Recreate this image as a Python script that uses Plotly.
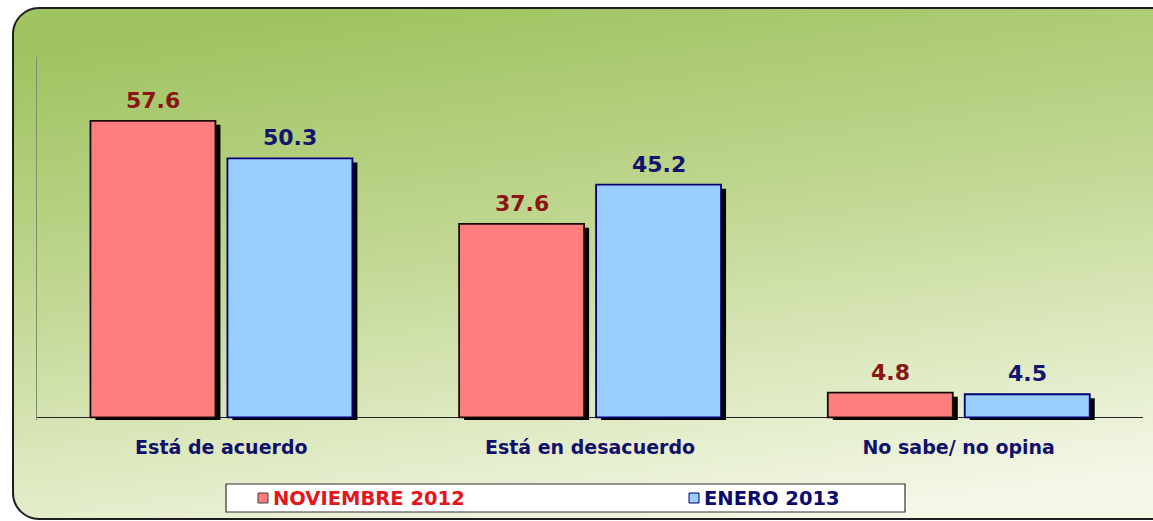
import base64
import plotly.graph_objects as go

# ---- data ----
categories = ["Está de acuerdo", "Está en desacuerdo", "No sabe/ no opina"]
series_names = ["NOVIEMBRE 2012", "ENERO 2013"]
nov_2012 = [57.6, 37.6, 4.8]
ene_2013 = [50.3, 45.2, 4.5]

# ---- styling ----
W, H = 1153, 521
ML, MR, MT, MB = 37, 10, 57, 101
PW, PH = W - ML - MR, H - MT - MB
Y_RANGE = [-0.5, 70]

bar_w = 0.339
offsets = [-0.355, 0.0165]
fill_colors = ["#ff7f7f", "#99ccff"]
line_colors = ["#1a0a0a", "#000070"]
label_colors = ["#8b1515", "#14146e"]
legend_text_colors = ["#e8141c", "#0a0a6e"]
shadow_dx = 5 / (PW / 3)
shadow_dy = 4 / (PH / (Y_RANGE[1] - Y_RANGE[0]))

FONT = "DejaVu Sans"


def px2x(px):
    return (px - ML) / PW


def py2y(py):
    return (H - MB - py) / PH


fig = go.Figure()
series = [nov_2012, ene_2013]

# shadows
for s, vals in enumerate(series):
    fig.add_trace(go.Bar(
        x=categories, y=vals, base=-shadow_dy, width=bar_w,
        offset=offsets[s] + shadow_dx,
        marker=dict(color="black", line=dict(width=0)),
        hoverinfo="skip", showlegend=False,
    ))

# bars
for s, vals in enumerate(series):
    fig.add_trace(go.Bar(
        x=categories, y=vals, width=bar_w, offset=offsets[s],
        name=series_names[s],
        marker=dict(color=fill_colors[s], line=dict(width=1.8, color=line_colors[s])),
        showlegend=False,
    ))

annotations = []
for s, vals in enumerate(series):
    for i, v in enumerate(vals):
        annotations.append(dict(
            x=i + offsets[s] + bar_w / 2, y=v, xref="x", yref="y",
            text=f"{v:.1f}", showarrow=False, yanchor="bottom", yshift=6,
            font=dict(family=FONT, size=22, color=label_colors[s], weight="bold"),
        ))

# legend (custom box)
shapes = [dict(
    type="rect", xref="paper", yref="paper",
    x0=px2x(226), x1=px2x(905), y0=py2y(512), y1=py2y(484),
    fillcolor="white", line=dict(color="#333333", width=1.2), layer="above",
)]
legend_pos = [258, 689]
for s, name in enumerate(series_names):
    x0 = legend_pos[s]
    shapes.append(dict(
        type="rect", xref="paper", yref="paper",
        x0=px2x(x0), x1=px2x(x0 + 10), y0=py2y(503), y1=py2y(493),
        fillcolor=fill_colors[s], line=dict(color="#404040" if s == 0 else "#000070", width=1),
        layer="above",
    ))
    annotations.append(dict(
        x=px2x(x0 + 13), y=py2y(498), xref="paper", yref="paper",
        text=name, showarrow=False, xanchor="left", yanchor="middle",
        font=dict(family=FONT, size=19.5, color=legend_text_colors[s], weight="bold"),
    ))

# background rounded panel with gradient
svg = f"""<svg xmlns='http://www.w3.org/2000/svg' width='{W}' height='{H}' viewBox='0 0 {W} {H}'>
<defs><linearGradient id='g' x1='0.35' y1='0' x2='0.65' y2='1'>
<stop offset='0' stop-color='#a0c462'/>
<stop offset='0.45' stop-color='#c3d895'/>
<stop offset='0.8' stop-color='#e2ecc8'/>
<stop offset='1' stop-color='#f3f7e6'/>
</linearGradient></defs>
<rect x='13' y='8' width='1175' height='511' rx='26' ry='26' fill='url(#g)' stroke='#1e1e1e' stroke-width='2'/>
</svg>"""
src = "data:image/svg+xml;base64," + base64.b64encode(svg.encode()).decode()

fig.update_layout(
    width=W, height=H,
    margin=dict(l=ML, r=MR, t=MT, b=MB),
    barmode="overlay",
    paper_bgcolor="white",
    plot_bgcolor="rgba(0,0,0,0)",
    showlegend=False,
    annotations=annotations,
    shapes=shapes,
    images=[dict(
        source=src, xref="paper", yref="paper",
        x=-ML / PW, y=1 + MT / PH, sizex=W / PW, sizey=H / PH,
        xanchor="left", yanchor="top", sizing="stretch", layer="below",
    )],
    xaxis=dict(
        showline=False, showgrid=False, zeroline=False, ticks="",
        tickfont=dict(family=FONT, size=19, color="#10106a", weight="bold"),
        ticklabelstandoff=14,
    ),
    yaxis=dict(
        range=Y_RANGE, showgrid=False, showticklabels=False, ticks="",
        showline=True, linecolor="#7f8f6a", linewidth=1,
        zeroline=True, zerolinecolor="#222222", zerolinewidth=1,
    ),
)

fig.write_html(
    "out.html",
    config={"displayModeBar": False},
    post_script="document.body.style.margin='0';document.body.style.overflow='hidden';",
)
